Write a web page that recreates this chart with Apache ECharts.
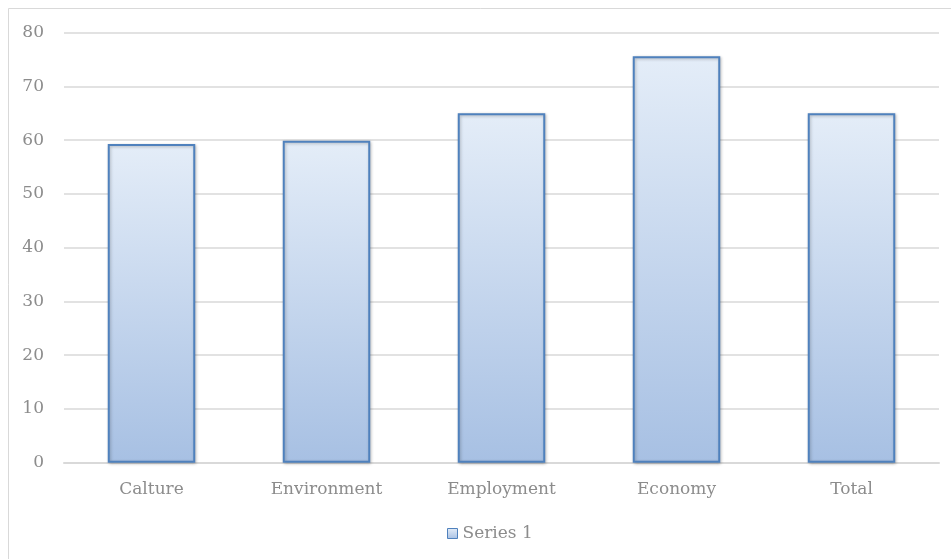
<!DOCTYPE html>
<html>
<head>
<meta charset="utf-8">
<script src="https://cdn.jsdelivr.net/npm/echarts@6/dist/echarts.min.js"></script>
<style>
  html, body { margin: 0; padding: 0; background: #ffffff; }
  #chart { width: 951px; height: 559px; }
</style>
</head>
<body>
<div id="chart"></div>
<script>
// Categories and the single series of scores
const categories = ['Calture', 'Environment', 'Employment', 'Economy', 'Total'];
const series1 = [59.3, 59.9, 65.0, 75.6, 65.0];
const yTicks = { min: 0, max: 80, interval: 10 };
const seriesName = 'Series 1';

const FONT = 'DejaVu Serif';
const TEXT = '#8c8c8c';

const barFill = new echarts.graphic.LinearGradient(0, 0, 0, 1, [
  { offset: 0, color: '#e4edf8' },
  { offset: 1, color: '#a7c0e3' }
]);

const chart = echarts.init(document.getElementById('chart'), null, { renderer: 'canvas' });

chart.setOption({
  backgroundColor: '#ffffff',
  animation: false,
  textStyle: { fontFamily: FONT },
  graphic: [{
    type: 'rect',
    shape: { x: 8.5, y: 8.5, width: 1000, height: 600 },
    style: { fill: 'none', stroke: '#d9d9d9', lineWidth: 1 },
    silent: true,
    z: -10
  }],
  grid: { left: 64, right: 12, top: 32.7, bottom: 96.3, containLabel: false },
  legend: {
    data: [seriesName],
    bottom: 12,
    left: 442,
    icon: 'rect',
    itemWidth: 10,
    itemHeight: 10,
    textStyle: { fontFamily: FONT, fontSize: 17, color: TEXT, padding: [0, 0, 0, 0] },
    itemStyle: { borderColor: '#4f81bd', borderWidth: 1 }
  },
  xAxis: {
    type: 'category',
    data: categories,
    axisLine: { show: true, lineStyle: { color: '#d9d9d9', width: 2 } },
    axisTick: { show: false },
    axisLabel: { fontFamily: FONT, fontSize: 17, color: TEXT, margin: 18 }
  },
  yAxis: {
    type: 'value',
    min: yTicks.min,
    max: yTicks.max,
    interval: yTicks.interval,
    axisLine: { show: false },
    axisTick: { show: false },
    splitLine: { lineStyle: { color: '#d9d9d9', width: 1.5 } },
    axisLabel: { fontFamily: FONT, fontSize: 17, color: TEXT, margin: 20 }
  },
  series: [{
    name: seriesName,
    type: 'bar',
    data: series1,
    barWidth: '50%',
    itemStyle: {
      color: barFill,
      borderColor: '#4f81bd',
      borderWidth: 2,
      shadowColor: 'rgba(0,0,0,0.25)',
      shadowBlur: 3,
      shadowOffsetX: 1,
      shadowOffsetY: 1
    }
  }]
});
</script>
</body>
</html>
